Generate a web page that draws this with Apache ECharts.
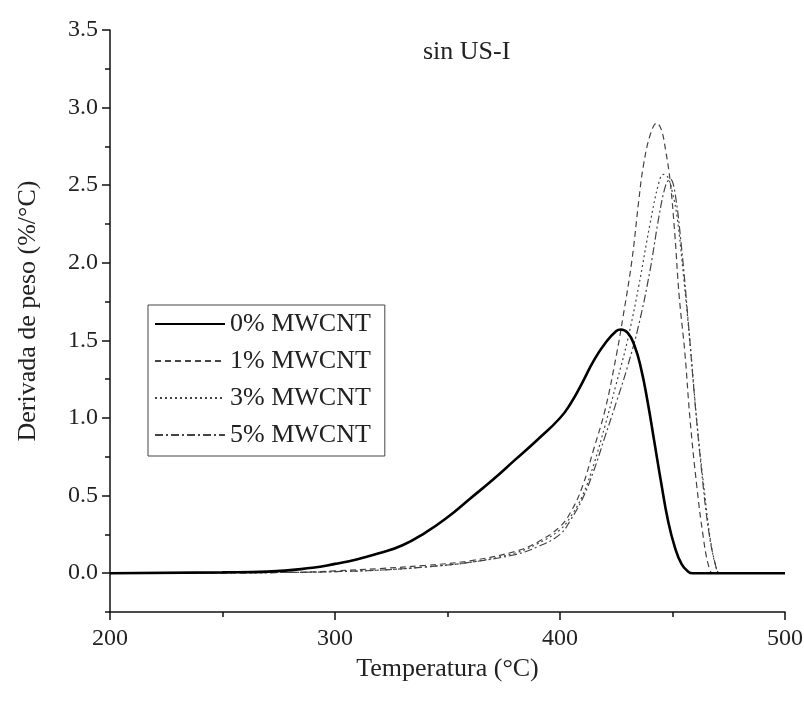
<!DOCTYPE html>
<html>
<head>
<meta charset="utf-8">
<script src="https://cdn.jsdelivr.net/npm/echarts@6.0.0/dist/echarts.min.js"></script>
<style>
  html, body { margin: 0; padding: 0; background: #fff; }
  #chart { width: 804px; height: 705px; }
</style>
</head>
<body>
<div id="chart"></div>
<script>
// temperaturas (°C) y derivada de peso (%/°C)
var temps0 = [200,250,270,290,300,310,320,330,340,350,360,370,380,390,400,405,410,415,420,425,427,430,433,436,439,442,445,448,451,454,457,459,463,500];
var vals0  = [0,0.005,0.01,0.035,0.06,0.09,0.13,0.18,0.26,0.36,0.48,0.6,0.73,0.86,1.0,1.1,1.23,1.37,1.48,1.56,1.57,1.55,1.47,1.32,1.1,0.84,0.58,0.34,0.17,0.06,0.01,0,0,0];

var temps1 = [200,280,300,320,340,360,380,390,400,405,410,415,420,425,428,432,435,437,440,443,445,447,449,451,453,455.5,457.8,460.8,463.6,466,468,472,500];
var vals1  = [0,0.005,0.015,0.03,0.05,0.08,0.14,0.2,0.3,0.4,0.56,0.8,1.05,1.4,1.65,2.02,2.4,2.62,2.82,2.9,2.86,2.72,2.52,2.19,1.78,1.42,0.99,0.56,0.24,0.05,0,0,0];

var temps3 = [200,280,300,320,340,360,380,390,400,405,410,415,420,425,430,435,440,444,446,448,450,452,455,458,461,464,467,469.5,471,475,500];
var vals3  = [0,0.005,0.01,0.02,0.04,0.07,0.13,0.19,0.28,0.37,0.5,0.7,0.95,1.22,1.5,1.85,2.25,2.52,2.57,2.55,2.45,2.3,1.9,1.45,0.95,0.55,0.2,0.03,0,0,0];

var temps5 = [200,280,300,320,340,360,380,390,400,405,410,415,420,425,430,435,440,444,447,449,451,454,457,460,463,466,469,471,475,500];
var vals5  = [0,0.005,0.01,0.02,0.04,0.07,0.12,0.17,0.25,0.35,0.48,0.66,0.88,1.1,1.33,1.6,1.95,2.3,2.5,2.54,2.46,2.1,1.62,1.1,0.65,0.28,0.06,0,0,0];

var seriesNames = ['0% MWCNT','1% MWCNT','3% MWCNT','5% MWCNT'];
var yTicks = [0,0.5,1,1.5,2,2.5,3,3.5];

function pairs(t, v){
    var out = [];
    for(var i=0;i<t.length;i++){
        out.push([t[i], v[i]]);
    }
    return out;
}

var font = 'Liberation Serif, Times New Roman, serif';
var chart = echarts.init(document.getElementById('chart'));

chart.setOption({
    animation: false,
    backgroundColor: '#fff',
    title: {
        text: 'sin US-I',
        left: 418,
        top: 34,
        textStyle: { fontFamily: font, fontSize: 26, fontWeight: 'normal', color: '#222' }
    },
    legend: {
        data: seriesNames,
        orient: 'vertical',
        left: 148,
        top: 305,
        padding: [6, 14, 8, 6],
        itemWidth: 70,
        itemHeight: 24,
        itemGap: 11,
        borderColor: '#444',
        borderWidth: 1,
        itemStyle: { opacity: 0 },
        textStyle: { fontFamily: font, fontSize: 26, color: '#222' }
    },
    grid: {
        left: 110,
        right: 19,
        top: 30,
        bottom: 93,
        containLabel: false,
        outerBoundsMode: 'none'
    },
    xAxis: {
        type: 'value',
        min: 200,
        max: 500,
        interval: 100,
        name: 'Temperatura (°C)',
        nameLocation: 'middle',
        nameGap: 40,
        nameTextStyle: { fontFamily: font, fontSize: 26, color: '#222' },
        axisLine: { onZero: false, lineStyle: { color: '#111', width: 1.5 } },
        axisTick: { inside: false, length: 8, lineStyle: { color: '#111', width: 1.5 } },
        minorTick: { show: true, splitNumber: 2, length: 5, lineStyle: { color: '#111', width: 1.5 } },
        axisLabel: { fontFamily: font, fontSize: 24, color: '#222', margin: 15 },
        splitLine: { show: false }
    },
    yAxis: [{
        type: 'value',
        position: 'left',
        min: -0.25,
        max: 3.5,
        name: 'Derivada de peso (%/°C)',
        nameLocation: 'middle',
        nameGap: 69,
        nameTextStyle: { fontFamily: font, fontSize: 26, color: '#222', padding: [0, 0, 0, 20] },
        axisLine: { show: true, onZero: false, lineStyle: { color: '#111', width: 1.5 } },
        axisTick: { show: true, length: 8, customValues: yTicks, lineStyle: { color: '#111', width: 1.5 } },
        axisLabel: {
            fontFamily: font, fontSize: 24, color: '#222', margin: 12,
            customValues: yTicks,
            formatter: function (v) { return v.toFixed(1); }
        },
        splitLine: { show: false }
    }, {
        type: 'value',
        position: 'left',
        min: -0.25,
        max: 3.5,
        interval: 0.25,
        axisLine: { show: false, onZero: false },
        axisTick: { show: true, length: 5, lineStyle: { color: '#111', width: 1.5 } },
        axisLabel: { show: false },
        splitLine: { show: false }
    }],
    series: [{
        name: '0% MWCNT',
        type: 'line',
        symbol: 'none',
        smooth: 0.5,
        z: 5,
        lineStyle: { color: '#000', width: 2.6, type: 'solid' },
        itemStyle: { color: '#000' },
        data: pairs(temps0, vals0)
    }, {
        name: '1% MWCNT',
        type: 'line',
        symbol: 'none',
        smooth: 0.4,
        lineStyle: { color: '#444', width: 1.2, type: [6, 4] },
        itemStyle: { color: '#444' },
        data: pairs(temps1, vals1)
    }, {
        name: '3% MWCNT',
        type: 'line',
        symbol: 'none',
        smooth: 0.4,
        lineStyle: { color: '#444', width: 1.2, type: [2, 3] },
        itemStyle: { color: '#444' },
        data: pairs(temps3, vals3)
    }, {
        name: '5% MWCNT',
        type: 'line',
        symbol: 'none',
        smooth: 0.4,
        lineStyle: { color: '#444', width: 1.2, type: [8, 3, 2, 3] },
        itemStyle: { color: '#444' },
        data: pairs(temps5, vals5)
    }]
});
</script>
</body>
</html>
